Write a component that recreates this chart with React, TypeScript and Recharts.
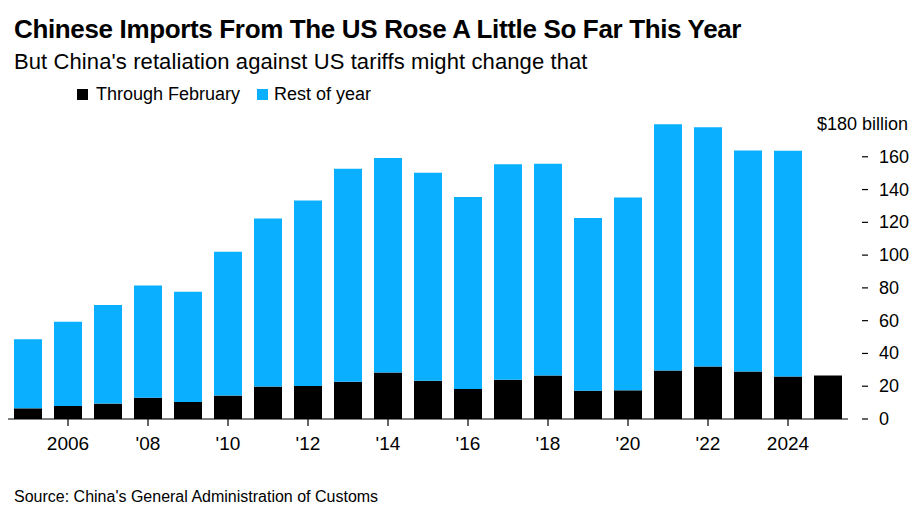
import React from "react"
import { BarChart, Bar, XAxis, YAxis } from "recharts"

const years = [
  "2005", "2006", "2007", "2008", "2009", "2010", "2011", "2012", "2013", "2014",
  "2015", "2016", "2017", "2018", "2019", "2020", "2021", "2022", "2023", "2024", "2025",
]
const throughFeb = [
  6.5, 8.0, 9.4, 13.0, 10.4, 14.3, 19.8, 20.2, 22.8, 28.3,
  23.4, 18.3, 23.9, 26.5, 17.3, 17.5, 29.6, 32.0, 29.0, 25.9, 26.5,
]
const restOfYear = [
  42.2, 51.3, 60.1, 68.5, 67.3, 87.8, 102.5, 113.1, 129.9, 130.9,
  126.9, 117.1, 131.6, 129.3, 105.4, 117.7, 150.2, 146.0, 134.9, 137.8, 0,
]
const yTicks = [0, 20, 40, 60, 80, 100, 120, 140, 160, 180]
const xLabels: Record<string, string> = {
  "2006": "2006", "2008": "'08", "2010": "'10", "2012": "'12", "2014": "'14",
  "2016": "'16", "2018": "'18", "2020": "'20", "2022": "'22", "2024": "2024",
}

const FONT = "'Liberation Sans', Arial, sans-serif"
const BLUE = "#0aafff"

const data = years.map((y, i) => ({ year: y, feb: throughFeb[i], rest: restOfYear[i] }))

function XTick(props: any) {
  const { x, y, payload } = props
  const label = xLabels[payload.value]
  if (!label) return <g />
  return (
    <g>
      <line x1={x} x2={x} y1={y} y2={y + 7} stroke="#000" strokeWidth={1.2} />
      <text x={x} y={y + 31} textAnchor="middle" fontSize={19} fontFamily={FONT} fill="#000">
        {label}
      </text>
    </g>
  )
}

function YTick(props: any) {
  const { x, y, payload } = props
  if (payload.value === 180) {
    return (
      <text x={x + 60} y={y + 6} textAnchor="end" fontSize={18} fontFamily={FONT} fill="#000">
        $180 billion
      </text>
    )
  }
  return (
    <g>
      <line x1={x + 14} x2={x + 20} y1={y} y2={y} stroke="#000" strokeWidth={1.2} />
      <text x={x + 31} y={y + 6} textAnchor="start" fontSize={18} fontFamily={FONT} fill="#000">
        {payload.value}
      </text>
    </g>
  )
}

export default function App() {
  return (
    <div style={{ position: "absolute", left: 0, top: 0, width: 923, height: 524, background: "#fff", fontFamily: FONT }}>
      <div style={{ position: "absolute", left: 14, top: 14, fontSize: 26, fontWeight: 700, letterSpacing: -0.35, whiteSpace: "nowrap" }}>
        Chinese Imports From The US Rose A Little So Far This Year
      </div>
      <div style={{ position: "absolute", left: 14, top: 49, fontSize: 22, letterSpacing: 0.1, whiteSpace: "nowrap" }}>
        But China's retaliation against US tariffs might change that
      </div>
      <div style={{ position: "absolute", left: 77, top: 84, fontSize: 18, display: "flex", alignItems: "center", whiteSpace: "nowrap" }}>
        <span style={{ width: 11, height: 11, background: "#000", display: "inline-block", marginRight: 8 }} />
        <span>Through February</span>
        <span style={{ width: 11, height: 11, background: BLUE, display: "inline-block", marginLeft: 17, marginRight: 6 }} />
        <span>Rest of year</span>
      </div>
      <div style={{ position: "absolute", left: 0, top: 0 }}>
        <BarChart width={923} height={470} data={data} margin={{ top: 124, right: 0, left: 8, bottom: 0 }}>
          <XAxis
            dataKey="year"
            interval={0}
            height={51}
            tickLine={false}
            tickSize={0}
            tickMargin={0}
            axisLine={{ stroke: "#000", strokeWidth: 1.2 }}
            tick={<XTick />}
          />
          <YAxis
            orientation="right"
            width={75}
            domain={[0, 180]}
            ticks={yTicks}
            axisLine={false}
            tickLine={false}
            tickSize={0}
            tickMargin={0}
            tick={<YTick />}
          />
          <Bar dataKey="feb" stackId="a" fill="#000" barSize={28} isAnimationActive={false} />
          <Bar dataKey="rest" stackId="a" fill={BLUE} barSize={28} isAnimationActive={false} />
        </BarChart>
      </div>
      <div style={{ position: "absolute", left: 14, top: 488, fontSize: 16, whiteSpace: "nowrap" }}>
        Source: China's General Administration of Customs
      </div>
    </div>
  )
}
